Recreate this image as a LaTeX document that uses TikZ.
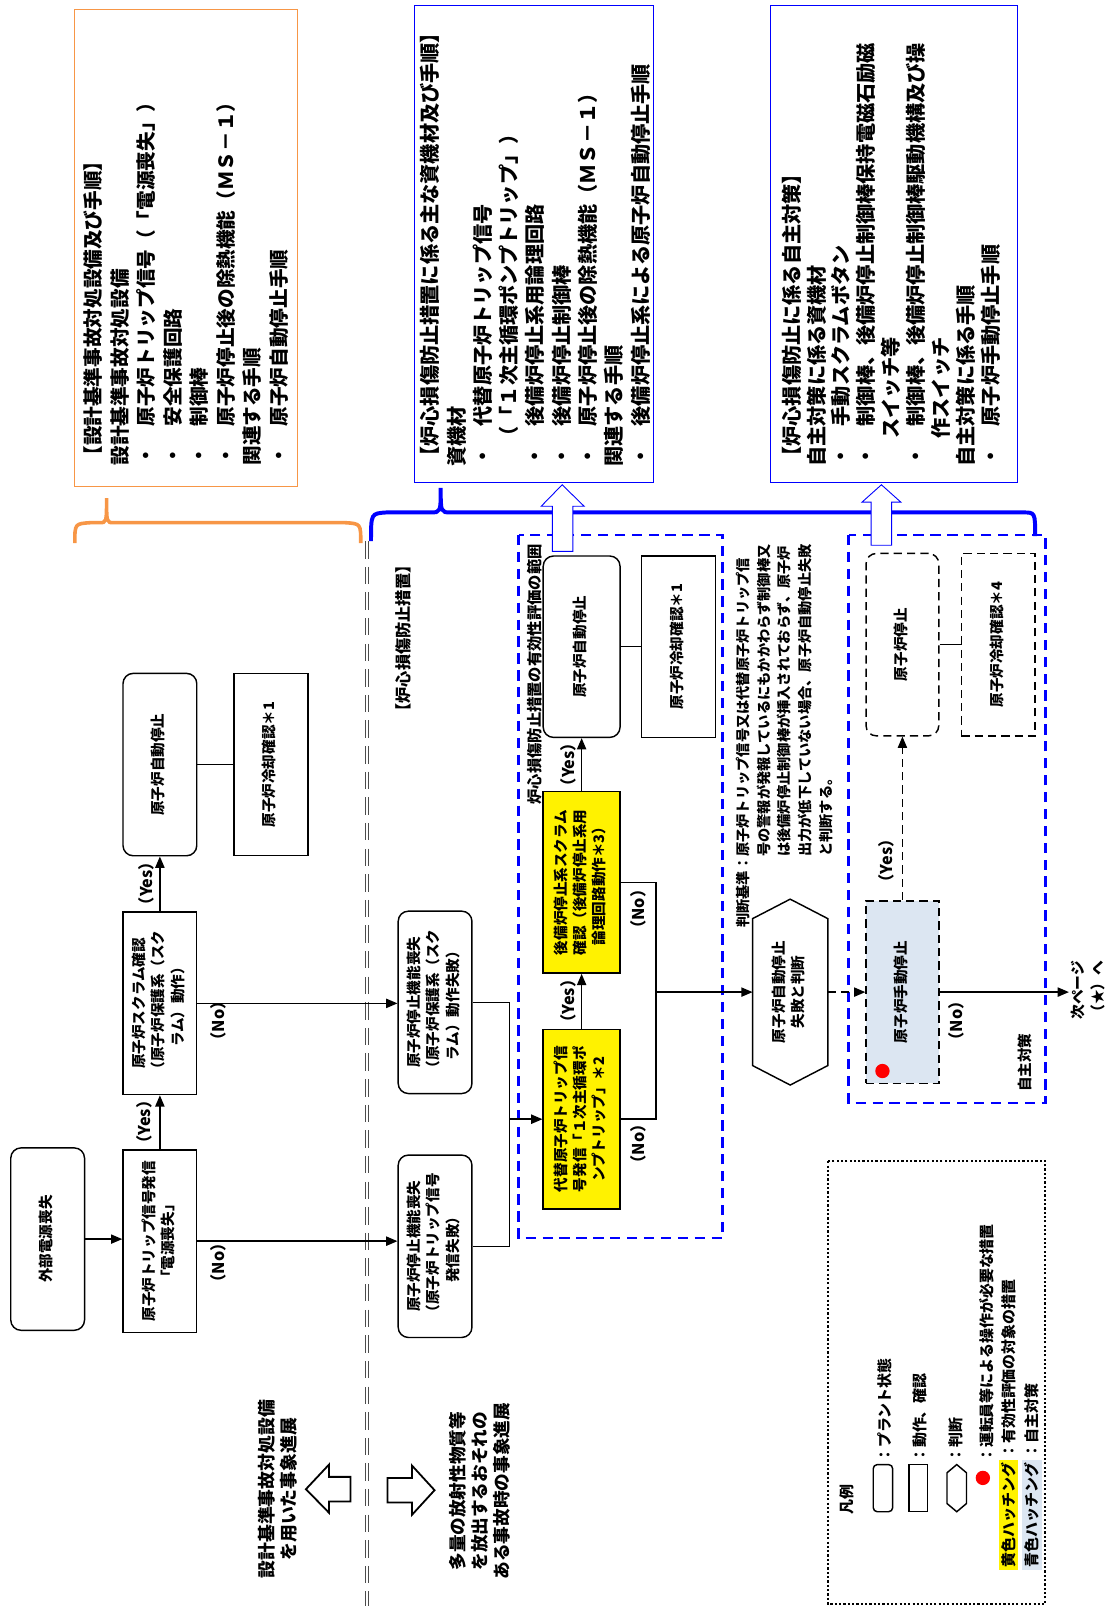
\documentclass[tikz,border=0pt]{standalone}
\usepackage{fontspec}
\setmainfont{Noto Sans CJK JP}
\usepackage{graphicx}
\usetikzlibrary{arrows.meta}

\definecolor{dbcorange}{RGB}{247,150,70}
\definecolor{hatchblue}{RGB}{220,230,242}
\newcommand{\boxfont}{\fontsize{8.1}{10.8}\selectfont\bfseries}
\newcommand{\vt}[2][c]{\rotatebox{90}{\begin{tabular}{@{}#1@{}}#2\end{tabular}}}

\begin{document}
\begin{tikzpicture}[x=0.02cm, y=-0.02cm, line width=0.8pt,
    >={Triangle[length=0.22cm, width=0.18cm]}]
  \tikzset{plant/.style={draw, rounded corners=0.2cm, inner sep=0pt,
      minimum width=1.44cm, minimum height=3.56cm, font=\boxfont},
    action/.style={plant, sharp corners},
    opdash/.style={dash pattern=on 0.16cm off 0.1cm},
    lbl/.style={rotate=90, inner sep=0pt, font=\fontsize{9}{11}\selectfont\bfseries},
    bluedash/.style={draw=blue, line width=1.4pt, dash pattern=on 0.2cm off 0.13cm},
    hollow/.style={fill=white, line width=0.5pt},
    legendtxt/.style={rotate=90, anchor=west, inner sep=0pt, font=\fontsize{8.3}{10}\selectfont\bfseries}}
  \useasboundingbox (0,0) rectangle (1080,1567);

%% Upper frames
  \draw[dbcorange, line width=0.6pt] (73,9) rectangle (290,475);
  \draw[blue, line width=0.6pt] (404,5) rectangle (638,471);
  \draw[blue, line width=0.6pt] (752,5) rectangle (993,471);
  \node[anchor=south west, inner sep=0pt, font=\fontsize{10.9}{14.7}\selectfont\bfseries] (dbclist) at (79.5,455)
    {\vt[l]{【設計基準事故対処設備及び手順】\\
      設計基準事故対処設備\\
      ・　原子炉トリップ信号（「電源喪失」）\\
      ・　安全保護回路\\
      ・　制御棒\\
      ・　原子炉停止後の除熱機能（ＭＳ－１）\\
      関連する手順\\
      ・　原子炉自動停止手順}};
  \node[anchor=south west, inner sep=0pt, font=\fontsize{11.2}{14.6}\selectfont\bfseries] (cdplist) at (408.5,456)
    {\vt[l]{【炉心損傷防止措置に係る主な資機材及び手順】\\
      資機材\\
      ・　代替原子炉トリップ信号\\
      　（「１次主循環ポンプトリップ」）\\
      ・　後備炉停止系用論理回路\\
      ・　後備炉停止制御棒\\
      ・　原子炉停止後の除熱機能（ＭＳ－１）\\
      関連する手順\\
      ・　後備炉停止系による原子炉自動停止手順}};
  \node[anchor=south west, inner sep=0pt, font=\fontsize{11.2}{13.8}\selectfont\bfseries] (vollist) at (762,456)
    {\vt[l]{【炉心損傷防止に係る自主対策】\\
      自主対策に係る資機材\\
      ・　手動スクラムボタン\\
      ・　制御棒、後備炉停止制御棒保持電磁石励磁\\
      \hspace{1.4em}スイッチ等\\
      ・　制御棒、後備炉停止制御棒駆動機構及び操\\
      \hspace{1.4em}作スイッチ\\
      自主対策に係る手順\\
      ・　原子炉手動停止手順}};

%% Braces
  \draw[dbcorange, line width=2pt] (73,530) .. controls (73,511) .. (88,510) -- (97,510)
    .. controls (104,510) .. (104,486) .. controls (104,510) .. (111,510) -- (337,510)
    .. controls (352,511) .. (352,530);
  \draw[blue, line width=2.2pt] (362,528) .. controls (362,501) .. (377,500) -- (420,500)
    .. controls (430,500) .. (430,476) .. controls (430,500) .. (440,500) -- (998,500)
    .. controls (1010,500) .. (1010,523);

%% Divider
  \draw[black!70, double, double distance=1.4pt, line width=0.6pt, dash pattern=on 0.34cm off 0.16cm] (358,528) -- (358,1567);
  \node[lbl] (cdplabel) at (394,623) {【炉心損傷防止措置】};

%% Evaluated range and voluntary range
  \draw[bluedash] (506,522) rectangle (705,1208);
  \draw[bluedash] (828,522) rectangle (1020,1076);
  \node[lbl, font=\fontsize{8.5}{10}\selectfont\bfseries] (rangelabel) at (522,658) {炉心損傷防止措置の有効性評価の範囲};
  \node[lbl, font=\boxfont] (vollabel) at (1000,1037) {自主対策};

%% Design basis sequence
  \node[plant] (offsite) at (46.5,1209) {\vt{外部電源喪失}};
  \node[action] (trip) at (156,1211) {\vt{原子炉トリップ信号発信\\「電源喪失」}};
  \node[action] (scram) at (156,979) {\vt{原子炉スクラム確認\\（原子炉保護系（スク\\ラム）動作）}};
  \node[plant] (auto1) at (156,746) {\vt{原子炉自動停止}};
  \node[action] (cool1) at (264.5,746) {\vt{原子炉冷却確認＊1}};

%% Core damage prevention
  \node[plant] (loss1) at (424.5,978) {\vt{原子炉停止機能喪失\\（原子炉保護系（スク\\ラム）動作失敗）}};
  \node[plant] (loss2) at (424.5,1216) {\vt{原子炉停止機能喪失\\（原子炉トリップ信号\\発信失敗）}};
  \node[action, fill=yellow, minimum width=1.5cm, minimum height=3.5cm] (alttrip) at (567.5,1092)
    {\vt{代替原子炉トリップ信\\号発信「１次主循環ポ\\ンプトリップ」＊2}};
  \node[action, fill=yellow, minimum width=1.5cm, minimum height=3.54cm] (backup) at (567.5,861)
    {\vt{後備炉停止系スクラム\\確認（後備炉停止系用\\論理回路動作＊3）}};
  \node[plant, minimum width=1.5cm, minimum height=3.54cm] (auto2) at (567.5,631) {\vt{原子炉自動停止}};
  \node[action, minimum height=3.54cm] (cool2) at (662,631) {\vt{原子炉冷却確認＊1}};

  \node[inner sep=0pt, minimum width=1.44cm, minimum height=3.6cm, font=\boxfont] (judge) at (771,968)
    {\vt{原子炉自動停止\\失敗と判断}};
  \draw ([yshift=-0.38cm]judge.north west) -- ([yshift=0.38cm]judge.south west) -- (judge.south)
    -- ([yshift=0.38cm]judge.south east) -- ([yshift=-0.38cm]judge.north east) -- (judge.north) -- cycle;
  \node[anchor=south west, inner sep=0pt, font=\fontsize{7.9}{11.4}\selectfont\bfseries] (criteria) at (716,906)
    {\vt[l]{判断基準：原子炉トリップ信号又は代替原子炉トリップ信\\
      　　　　　号の警報が発報しているにもかかわらず制御棒又\\
      　　　　　は後備炉停止制御棒が挿入されておらず、原子炉\\
      　　　　　出力が低下していない場合、原子炉自動停止失敗\\
      　　　　　と判断する。}};

%% Voluntary measures
  \node[action, opdash, fill=hatchblue, minimum width=1.42cm] (manual) at (880.5,968) {\vt{原子炉手動停止}};
  \fill[red] (861,1045) circle[radius=0.14cm];
  \node[plant, opdash, minimum width=1.42cm] (stop) at (880.5,629) {\vt{原子炉停止}};
  \node[action, opdash] (cool4) at (974,629) {\vt{原子炉冷却確認＊4}};
  \node[anchor=west, inner sep=0pt, font=\fontsize{8.2}{11}\selectfont\bfseries] (next) at (1043,966) {\vt[l]{次ページ\\（★）へ}};

%% Connectors
  \draw[->] (offsite.east) -- (offsite.east -| trip.west);
  \draw[->] (trip.north) -- (scram.south);
  \draw[->] (scram.north) -- (auto1.south);
  \draw (auto1) -- (cool1);
  \draw[->] (scram.east) -- (scram.east -| loss1.west);
  \draw[->] (trip.east) -- (trip.east -| loss2.west);
  \coordinate (join1) at (497,1092);
  \draw (loss1.east) -| (join1) |- (loss2.east);
  \draw[->] (join1) -- (alttrip.west);
  \draw[->] (alttrip.north) -- (backup.south);
  \draw[->] (backup.north) -- (auto2.south);
  \draw (auto2) -- (cool2);
  \coordinate (join2) at (640,968);
  \draw (alttrip.east) -| (join2) |- (backup.east);
  \draw[->] (join2) -- (judge.west);
  \draw[->, opdash] (judge.east) -- (manual.west);
  \draw[->, opdash] (manual.north) -- (stop.south);
  \draw (stop) -- (cool4);
  \draw[->] (manual.east) -- (manual.east -| next.west);

%% Yes / No
  \node[lbl] at (141,1095) {（Yes）};
  \node[lbl] at (143,862) {（Yes）};
  \node[lbl] at (213,996) {（No）};
  \node[lbl] at (213,1232) {（No）};
  \node[lbl] at (555,977) {（Yes）};
  \node[lbl] at (555,746) {（Yes）};
  \node[lbl] at (623,1116) {（No）};
  \node[lbl] at (623,887) {（No）};
  \node[lbl] at (865,840) {（Yes）};
  \node[lbl] at (933,996) {（No）};

%% Hollow arrows
  \draw[blue, hollow] (539,538) -- (539,494) -- (528,494) -- (548.5,473) -- (570,494) -- (559,494) -- (559,538) -- cycle;
  \draw[blue, hollow] (850,532) -- (850,490) -- (841,490) -- (860,473) -- (879,490) -- (870,490) -- (870,532) -- cycle;
  \draw[hollow, line width=1pt] (342,1441) -- (321,1441) -- (321,1429) -- (298.5,1453) -- (321,1476) -- (321,1465) -- (342,1465) -- cycle;
  \draw[hollow, line width=1pt] (378,1442) -- (402,1442) -- (402,1430) -- (424,1454) -- (402,1478) -- (402,1466) -- (378,1466) -- cycle;
  \node[inner sep=0pt, font=\fontsize{9.9}{11.95}\selectfont\bfseries] (dbcseq) at (273,1453)
    {\vt{設計基準事故対処設備\\を用いた事象進展}};
  \node[inner sep=0pt, font=\fontsize{9.8}{12.2}\selectfont\bfseries] (bdbseq) at (470.7,1455)
    {\vt{多量の放射性物質等\\を放出するおそれの\\ある事故時の事象進展}};

%% Legend
  \draw[line width=1.2pt, dash pattern=on 1.2pt off 1.2pt] (808,1133) rectangle (1020,1565);
  \node[rotate=90, inner sep=0pt, font=\fontsize{8.3}{10}\selectfont\bfseries] (legendtitle) at (826,1463) {凡例};
  \draw[rounded corners=0.08cm] (852,1429) rectangle (871,1475);
  \draw (887,1429) rectangle (905,1475);
  \draw (924,1437) -- (924,1467) -- (933.5,1475) -- (943,1467) -- (943,1437) -- (933.5,1429) -- cycle;
  \fill[red] (959,1442) circle[radius=0.14cm];
  \node[legendtxt] at (863,1428) {：プラント状態};
  \node[legendtxt] at (898,1428) {：動作、確認};
  \node[legendtxt] at (933,1428) {：判断};
  \node[legendtxt] at (963,1428) {：運転員等による操作が必要な措置};
  \node[legendtxt, anchor=east, fill=yellow, inner sep=0.05cm] at (984,1424) {黄色ハッチング};
  \node[legendtxt] at (984,1424) {：有効性評価の対象の措置};
  \node[legendtxt, anchor=east, fill=hatchblue, inner sep=0.05cm] at (1007,1424) {青色ハッチング};
  \node[legendtxt] at (1007,1424) {：自主対策};
\end{tikzpicture}
\end{document}
